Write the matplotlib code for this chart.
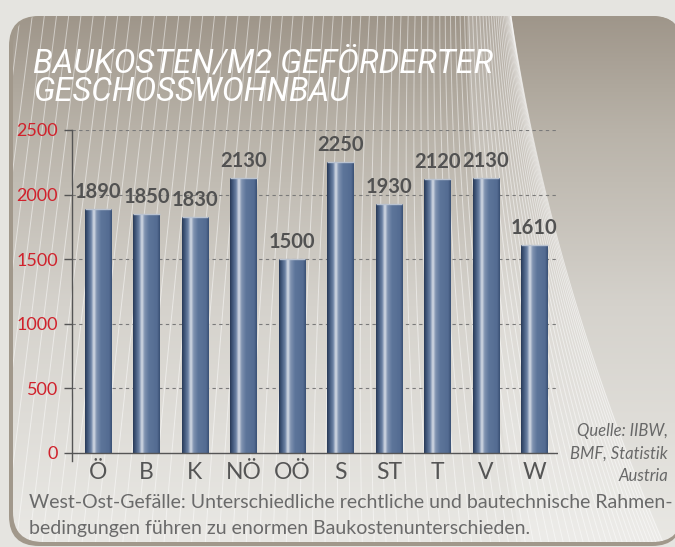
import matplotlib.pyplot as plt
import numpy as np
from matplotlib.colors import LinearSegmentedColormap
from matplotlib.patches import FancyBboxPatch, Polygon

# data
regions = ['Ö', 'B', 'K', 'NÖ', 'OÖ', 'S', 'ST', 'T', 'V', 'W']
kosten = [1890, 1850, 1830, 2130, 1500, 2250, 1930, 2120, 2130, 1610]
y_ticks = [0, 500, 1000, 1500, 2000, 2500]

title_lines = ['BAUKOSTEN/M2 GEFÖRDERTER', 'GESCHOSSWOHNBAU']
source_lines = ['Quelle: IIBW,', 'BMF, Statistik', 'Austria']
caption_lines = ['West-Ost-Gefälle: Unterschiedliche rechtliche und bautechnische Rahmen-',
                 'bedingungen führen zu enormen Baukostenunterschieden.']

W, H = 675, 547
fig = plt.figure(figsize=(W / 100, H / 100), dpi=100)
fig.patch.set_facecolor('#e5e4e0')

# background layer in pixel coords
bg = fig.add_axes([0, 0, 1, 1])
bg.axis('off')

shadow = FancyBboxPatch((9, 16), 673, 530, boxstyle='round,pad=0,rounding_size=30',
                        fc='#a1988b', ec='none', zorder=0)
bg.add_patch(shadow)
panel = FancyBboxPatch((13, 16), 669, 526, boxstyle='round,pad=0,rounding_size=30',
                       fc='none', ec='none', zorder=0)
bg.add_patch(panel)

panel_cmap = LinearSegmentedColormap.from_list(
    'panel', [(0, '#9f968a'), (0.22, '#b9b3a9'), (0.55, '#d5d2cc'), (1, '#e9e8e4')])
im = bg.imshow(np.linspace(0, 1, 256).reshape(-1, 1), cmap=panel_cmap,
               extent=(0, W, 542, 16), aspect='auto', zorder=1)
im.set_clip_path(panel)

# fan of thin white lines
t = np.linspace(0, 1, 60)
yy = 16 + 529 * t
edge = 511 + 80 * t + 74 * t ** 2
us = []
u = 0.0
while u < 1.0:
    us.append(u)
    u += (12 - 9.3 * u ** 1.5) / 551
for u in us:
    straight = -40 + 551 * u - 67 * t
    w = u ** 3
    xx = (1 - w) * straight + w * edge
    ln, = bg.plot(xx, yy, color='white', lw=0.7, alpha=0.5, zorder=2)
    ln.set_clip_path(panel)

inner = -40 + 551 * 0.82 - 67 * t
inner = (1 - 0.82 ** 3) * inner + 0.82 ** 3 * edge
band = Polygon(np.column_stack([np.r_[inner, edge[::-1]], np.r_[yy, yy[::-1]]]),
               closed=True, fc='white', alpha=0.18, ec='none', zorder=2)
bg.add_patch(band)
band.set_clip_path(panel)

bg.set_xlim(0, W)
bg.set_ylim(H, 0)

# title
for i, line in enumerate(title_lines):
    bg.text(33, 72 + 29 * i, line, color='white', fontsize=23.5, family='Roboto',
            fontweight='normal', style='italic', va='baseline', ha='left', zorder=5)

# source note
for i, line in enumerate(source_lines):
    bg.text(668, 436 + 22.5 * i, line, color='#686868', fontsize=12, family='Lato',
            style='italic', va='baseline', ha='right', zorder=5)

# caption
for i, line in enumerate(caption_lines):
    bg.text(29, 508 + 26 * i, line, color='#6a6a6a', fontsize=14, family='Lato',
            va='baseline', ha='left', zorder=5)

# chart
ax = fig.add_axes([72 / W, (H - 461) / H, (558 - 72) / W, (461 - 130) / H])
ax.patch.set_alpha(0)

x = np.arange(len(regions))
bars = ax.bar(x, kosten, width=0.54, color='#5a7296', zorder=3)

bar_cmap = LinearSegmentedColormap.from_list(
    'bar', [(0, '#2a3b58'), (0.08, '#3e5477'), (0.22, '#6c82a4'), (0.33, '#d6dce6'),
            (0.43, '#8093b1'), (0.6, '#5d759a'), (0.9, '#546c92'), (1, '#3b5175')])
for b in bars:
    gi = ax.imshow(np.linspace(0, 1, 64).reshape(1, -1), cmap=bar_cmap,
                   extent=(b.get_x(), b.get_x() + b.get_width(), 0, b.get_height()),
                   aspect='auto', zorder=4)
    gi.set_clip_path(b)
    ax.hlines(b.get_height(), b.get_x(), b.get_x() + b.get_width(),
              color='#b9c2d0', lw=1, zorder=5)

for i, v in enumerate(kosten):
    ax.annotate(str(v), (i, v), xytext=(0, 5), textcoords='offset points',
                ha='center', va='bottom', fontsize=14.5, fontweight='bold',
                color='#525252', family='Lato', zorder=6)

for yv in y_ticks[1:]:
    ax.hlines(yv, -0.536, 9.485, color='#7a7a7a', lw=0.8, linestyles=(0, (3, 3)), zorder=2)
ax.axhline(0, color='#555555', lw=1, zorder=5)

ax.set_xlim(-0.536, 9.485)
ax.set_ylim(-62, 2500)

for s in ['top', 'right', 'bottom']:
    ax.spines[s].set_visible(False)
ax.spines['left'].set_color('#555555')
ax.spines['left'].set_linewidth(1)

ax.set_yticks(y_ticks)
ax.tick_params(axis='y', length=6, width=1, color='#555555', labelcolor='#d0222c',
               labelsize=13, pad=4)
for lab in ax.get_yticklabels():
    lab.set_family('Lato')

ax.set_xticks(x, regions)
ax.tick_params(axis='x', length=0, labelcolor='#555555', labelsize=16.5, pad=1)
for lab in ax.get_xticklabels():
    lab.set_family('Lato')

fig.savefig('out.png', dpi=100, facecolor=fig.get_facecolor())
